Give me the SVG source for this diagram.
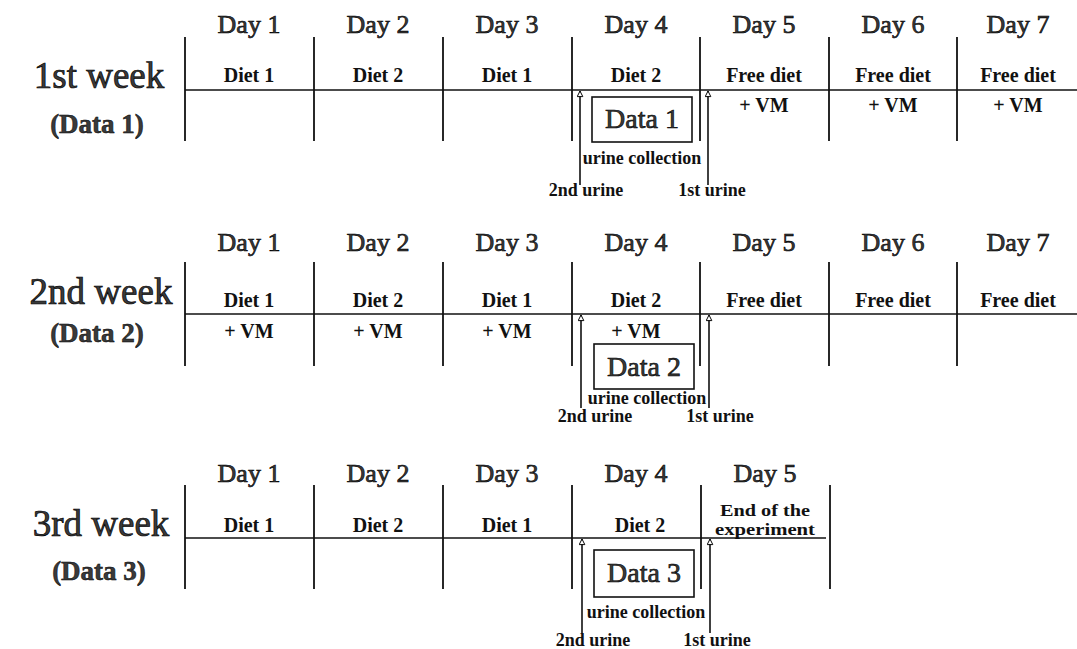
<svg xmlns="http://www.w3.org/2000/svg" width="1077" height="649" viewBox="0 0 1077 649">
<defs>
<marker id="openHead" viewBox="0 0 10 10" refX="9" refY="5" markerWidth="8" markerHeight="7" markerUnits="userSpaceOnUse" orient="auto">
<path d="M1,1 L9,5 L1,9 z" fill="#fff" stroke="#000" stroke-width="1.4"/>
</marker>
<style>
.grid line{stroke:#111;stroke-width:1.8}
.hl{stroke:#111;stroke-width:1.6}
.day{font-family:"Liberation Serif",serif;font-size:26px;fill:#3a3a3a;stroke:#000;stroke-width:0.6;text-anchor:middle}
.week{font-family:"Liberation Serif",serif;font-size:37px;fill:#3a3a3a;stroke:#000;stroke-width:0.7;text-anchor:middle}
.wdata{font-family:"Liberation Serif",serif;font-size:27px;font-weight:bold;fill:#3a3a3a;stroke:#000;stroke-width:0.5;text-anchor:middle}
.diet{font-family:"Liberation Serif",serif;font-size:20px;font-weight:bold;fill:#111;text-anchor:middle}
.end{font-family:"Liberation Serif",serif;font-size:17px;font-weight:bold;fill:#111;text-anchor:middle}
.vm{font-family:"Liberation Serif",serif;font-size:20px;font-weight:bold;fill:#111;text-anchor:middle}
.box{fill:#fff;stroke:#111;stroke-width:1.6}
.boxt{font-family:"Liberation Serif",serif;font-size:28px;fill:#3a3a3a;stroke:#000;stroke-width:0.6;text-anchor:middle}
.uc{font-family:"Liberation Serif",serif;font-size:18px;font-weight:bold;fill:#111;text-anchor:middle}
.arr{stroke:#111;stroke-width:1.6;fill:none;marker-end:url(#openHead)}
</style>
</defs>
<rect width="1077" height="649" fill="#fff"/>

<!-- Week 1 -->
<g id="week1">
<g class="grid">
<line x1="185" y1="37" x2="185" y2="141"/><line x1="314" y1="37" x2="314" y2="141"/>
<line x1="443" y1="37" x2="443" y2="141"/><line x1="572" y1="37" x2="572" y2="141"/>
<line x1="700" y1="37" x2="700" y2="141"/><line x1="829" y1="37" x2="829" y2="141"/>
<line x1="957" y1="37" x2="957" y2="141"/>
</g>
<line class="hl" x1="185" y1="90" x2="1077" y2="90"/>
<text class="week" x="99" y="88">1st week</text>
<text class="wdata" x="97" y="133">(Data 1)</text>
<text class="day" x="249" y="33">Day 1</text><text class="day" x="378" y="33">Day 2</text>
<text class="day" x="507" y="33">Day 3</text><text class="day" x="636" y="33">Day 4</text>
<text class="day" x="764" y="33">Day 5</text><text class="day" x="893" y="33">Day 6</text>
<text class="day" x="1018" y="33">Day 7</text>
<text class="diet" x="249" y="82">Diet 1</text><text class="diet" x="378" y="82">Diet 2</text>
<text class="diet" x="507" y="82">Diet 1</text><text class="diet" x="636" y="82">Diet 2</text>
<text class="diet" x="764" y="82">Free diet</text><text class="diet" x="893" y="82">Free diet</text>
<text class="diet" x="1018" y="82">Free diet</text>
<text class="vm" x="764" y="112">+ VM</text><text class="vm" x="893" y="112">+ VM</text>
<text class="vm" x="1018" y="112">+ VM</text>
<g id="data1"><rect class="box" x="592" y="97" width="100" height="45"/><text class="boxt" x="642" y="128">Data 1</text></g>
<text class="uc" x="642" y="164">urine collection</text>
<text class="uc" x="586" y="196">2nd urine</text>
<text class="uc" x="712" y="196">1st urine</text>
</g>

<!-- Week 2 -->
<g id="week2">
<g class="grid">
<line x1="185" y1="262" x2="185" y2="366"/><line x1="314" y1="262" x2="314" y2="366"/>
<line x1="443" y1="262" x2="443" y2="366"/><line x1="572" y1="262" x2="572" y2="366"/>
<line x1="700" y1="262" x2="700" y2="366"/><line x1="829" y1="262" x2="829" y2="366"/>
<line x1="957" y1="262" x2="957" y2="366"/>
</g>
<line class="hl" x1="185" y1="314" x2="1077" y2="314"/>
<text class="week" x="101" y="304">2nd week</text>
<text class="wdata" x="97" y="342">(Data 2)</text>
<text class="day" x="249" y="251">Day 1</text><text class="day" x="378" y="251">Day 2</text>
<text class="day" x="507" y="251">Day 3</text><text class="day" x="636" y="251">Day 4</text>
<text class="day" x="764" y="251">Day 5</text><text class="day" x="893" y="251">Day 6</text>
<text class="day" x="1018" y="251">Day 7</text>
<text class="diet" x="249" y="307">Diet 1</text><text class="diet" x="378" y="307">Diet 2</text>
<text class="diet" x="507" y="307">Diet 1</text><text class="diet" x="636" y="307">Diet 2</text>
<text class="diet" x="764" y="307">Free diet</text><text class="diet" x="893" y="307">Free diet</text>
<text class="diet" x="1018" y="307">Free diet</text>
<text class="vm" x="249" y="338">+ VM</text><text class="vm" x="378" y="338">+ VM</text>
<text class="vm" x="507" y="338">+ VM</text><text class="vm" x="636" y="338">+ VM</text>
<g id="data2"><rect class="box" x="594" y="344" width="100" height="45"/><text class="boxt" x="644" y="376">Data 2</text></g>
<text class="uc" x="647" y="404">urine collection</text>
<text class="uc" x="595" y="422">2nd urine</text>
<text class="uc" x="720" y="422">1st urine</text>
</g>

<!-- Week 3 -->
<g id="week3">
<g class="grid">
<line x1="185" y1="485" x2="185" y2="589"/><line x1="314" y1="485" x2="314" y2="589"/>
<line x1="443" y1="485" x2="443" y2="589"/><line x1="572" y1="485" x2="572" y2="589"/>
<line x1="701" y1="485" x2="701" y2="589"/><line x1="830" y1="485" x2="830" y2="589"/>
</g>
<line class="hl" x1="185" y1="538" x2="826" y2="538"/>
<text class="week" x="101" y="536">3rd week</text>
<text class="wdata" x="99" y="580">(Data 3)</text>
<text class="day" x="249" y="482">Day 1</text><text class="day" x="378" y="482">Day 2</text>
<text class="day" x="507" y="482">Day 3</text><text class="day" x="636" y="482">Day 4</text>
<text class="day" x="765" y="482">Day 5</text>
<text class="diet" x="249" y="532">Diet 1</text><text class="diet" x="378" y="532">Diet 2</text>
<text class="diet" x="507" y="532">Diet 1</text><text class="diet" x="640" y="532">Diet 2</text>
<text class="end" x="765" y="516" textLength="90" lengthAdjust="spacingAndGlyphs">End of the</text>
<text class="end" x="765" y="535" textLength="100" lengthAdjust="spacingAndGlyphs">experiment</text>
<g id="data3"><rect class="box" x="594" y="550" width="100" height="47"/><text class="boxt" x="644" y="582">Data 3</text></g>
<text class="uc" x="646" y="618">urine collection</text>
<text class="uc" x="593" y="646">2nd urine</text>
<text class="uc" x="717" y="646">1st urine</text>
</g>

<!-- Connectors: urine sampling arrows -->
<g id="connectors">
<line class="arr" x1="580" y1="185" x2="580" y2="91"/>
<line class="arr" x1="708" y1="185" x2="708" y2="91"/>
<line class="arr" x1="581" y1="408" x2="581" y2="315"/>
<line class="arr" x1="709" y1="408" x2="709" y2="315"/>
<line class="arr" x1="582" y1="633" x2="582" y2="539"/>
<line class="arr" x1="710" y1="633" x2="710" y2="539"/>
</g>
</svg>
